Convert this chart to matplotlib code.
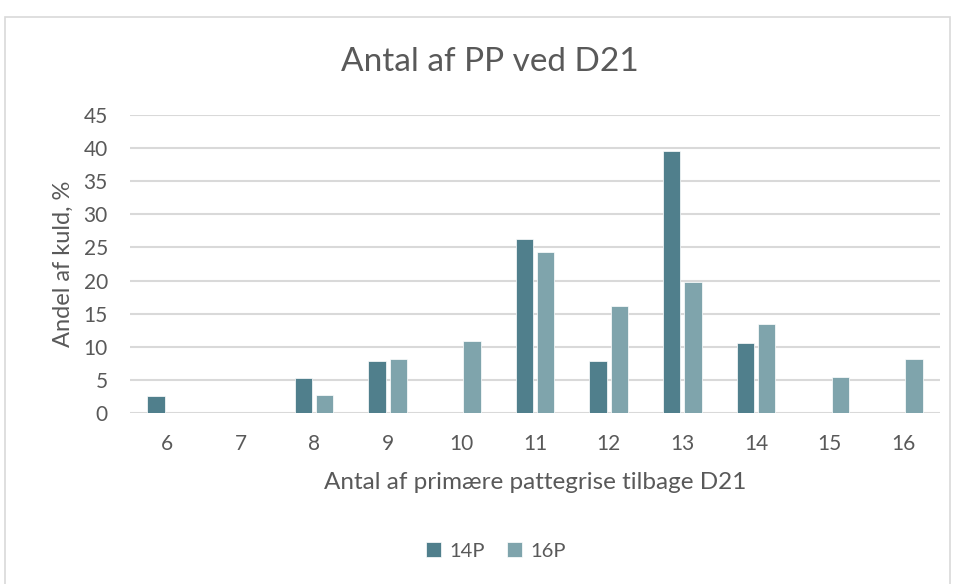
import matplotlib.pyplot as plt
import numpy as np
from matplotlib.patches import Rectangle

# data
categories = [6, 7, 8, 9, 10, 11, 12, 13, 14, 15, 16]
p14 = [2.6, 0, 5.3, 7.9, 0, 26.3, 7.9, 39.5, 10.5, 0, 0]
p16 = [0, 0, 2.7, 8.1, 10.8, 24.3, 16.2, 19.8, 13.5, 5.4, 8.1]
series_names = ["14P", "16P"]

c14 = "#507F8C"
c16 = "#7FA4AC"
txt = "#595959"
grid = "#D9D9D9"

plt.rcParams["font.family"] = ["Lato", "DejaVu Sans"]

fig = plt.figure(figsize=(9.57, 5.84), dpi=100)
ax = fig.add_axes([130 / 957, 1 - 413 / 584, 810 / 957, 298 / 584])

# chart frame
fig.patches.append(Rectangle((5 / 957, -0.01), 945 / 957, 1 - 17 / 584 + 0.01,
                             transform=fig.transFigure, fill=False,
                             edgecolor=grid, linewidth=1.2))

x = np.arange(len(categories))
w = 0.235
ax.bar(x - 0.145, p14, width=w, color=c14, edgecolor="white", linewidth=0.5,
       label=series_names[0], zorder=3)
ax.bar(x + 0.145, p16, width=w, color=c16, edgecolor="white", linewidth=0.5,
       label=series_names[1], zorder=3)

ax.set_xlim(-0.5, len(categories) - 0.5)
ax.set_ylim(0, 45)
ax.set_yticks(range(0, 46, 5))
ax.set_xticks(x)
ax.set_xticklabels([str(c) for c in categories])

ax.grid(axis="y", color=grid, linewidth=1.5, zorder=0)
ax.set_axisbelow(True)
for s in ax.spines.values():
    s.set_visible(False)
ax.tick_params(axis="both", length=0, labelsize=15, colors=txt)
ax.tick_params(axis="y", pad=16)
ax.tick_params(axis="x", pad=15)

ax.set_xlabel("Antal af primære pattegrise tilbage D21", fontsize=17.5, color=txt, labelpad=13)
ax.set_ylabel("Andel af kuld, %", fontsize=17, color=txt, labelpad=7)
fig.text(490 / 957, 1 - 62 / 584, "Antal af PP ved D21", fontsize=24, color=txt,
         ha="center", va="center")

fig.legend(loc="center", bbox_to_anchor=(496 / 957, 1 - 551 / 584), ncol=2,
           frameon=False, fontsize=14.5, labelcolor=txt, handlelength=0.75,
           handleheight=0.75, handletextpad=0.4, columnspacing=1.1)

fig.savefig("out.png", dpi=100)
